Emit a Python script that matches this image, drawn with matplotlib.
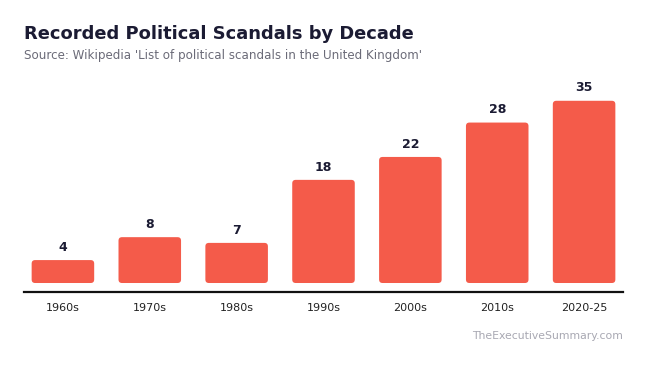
import matplotlib
matplotlib.use("Agg")
import matplotlib.pyplot as plt
from matplotlib.patches import FancyBboxPatch

decades = ["1960s", "1970s", "1980s", "1990s", "2000s", "2010s", "2020-25"]
# printed value labels
scandal_labels = [4, 8, 7, 18, 22, 28, 35]
# bar heights as drawn in the reference (last bar is drawn shorter than its label)
bar_heights = [4, 8, 7, 18, 22, 28, 31.8]

BAR = "#F45B4A"
NAVY = "#1B1B33"

fig = plt.figure(figsize=(6.48, 3.67), dpi=100)
W, H = 648, 367
ax_left, ax_right, ax_bottom, ax_top = 24, 623, 292, 75
ax = fig.add_axes([ax_left / W, 1 - ax_bottom / H, (ax_right - ax_left) / W, (ax_bottom - ax_top) / H])

x = list(range(len(decades)))
bars = ax.bar(x, bar_heights, width=0.72, color=BAR)
ylo, yhi = -1.57, 36.3
ax.set_xlim(-0.448, len(decades) - 1 + 0.448)
ax.set_ylim(ylo, yhi)

# rounded corners
px_per_x = (ax_right - ax_left) / (len(decades) - 1 + 0.896)
px_per_y = (ax_bottom - ax_top) / (yhi - ylo)
for b in bars:
    bx, by, bw, bh = b.get_x(), b.get_y(), b.get_width(), b.get_height()
    b.set_visible(False)
    p = FancyBboxPatch((bx, by), bw, bh, boxstyle="round,pad=0,rounding_size=0.04",
                       mutation_aspect=px_per_x / px_per_y, facecolor=BAR, edgecolor="none")
    ax.add_patch(p)

for xi, h, lab in zip(x, bar_heights, scandal_labels):
    ax.text(xi, h + 1.1, str(lab), ha="center", va="bottom", fontsize=9,
            fontweight="bold", color=NAVY)

for s in ["top", "right", "left"]:
    ax.spines[s].set_visible(False)
ax.spines["bottom"].set_color("#111111")
ax.spines["bottom"].set_linewidth(1.6)
ax.set_yticks([])
ax.set_xticks(x)
ax.set_xticklabels(decades, fontsize=8, color="#222222")
ax.tick_params(axis="x", length=0, pad=8)

fig.text(ax_left / W, 1 - 34 / H, "Recorded Political Scandals by Decade", fontsize=12.9,
         fontweight="bold", color=NAVY, ha="left", va="center")
fig.text(ax_left / W, 1 - 56 / H, "Source: Wikipedia 'List of political scandals in the United Kingdom'",
         fontsize=8.6, color="#6B6B78", ha="left", va="center")
fig.text(ax_right / W, 1 - 336 / H, "TheExecutiveSummary.com", fontsize=7.8, color="#A8A8B2",
         ha="right", va="center")

fig.savefig("out.png", dpi=100)
